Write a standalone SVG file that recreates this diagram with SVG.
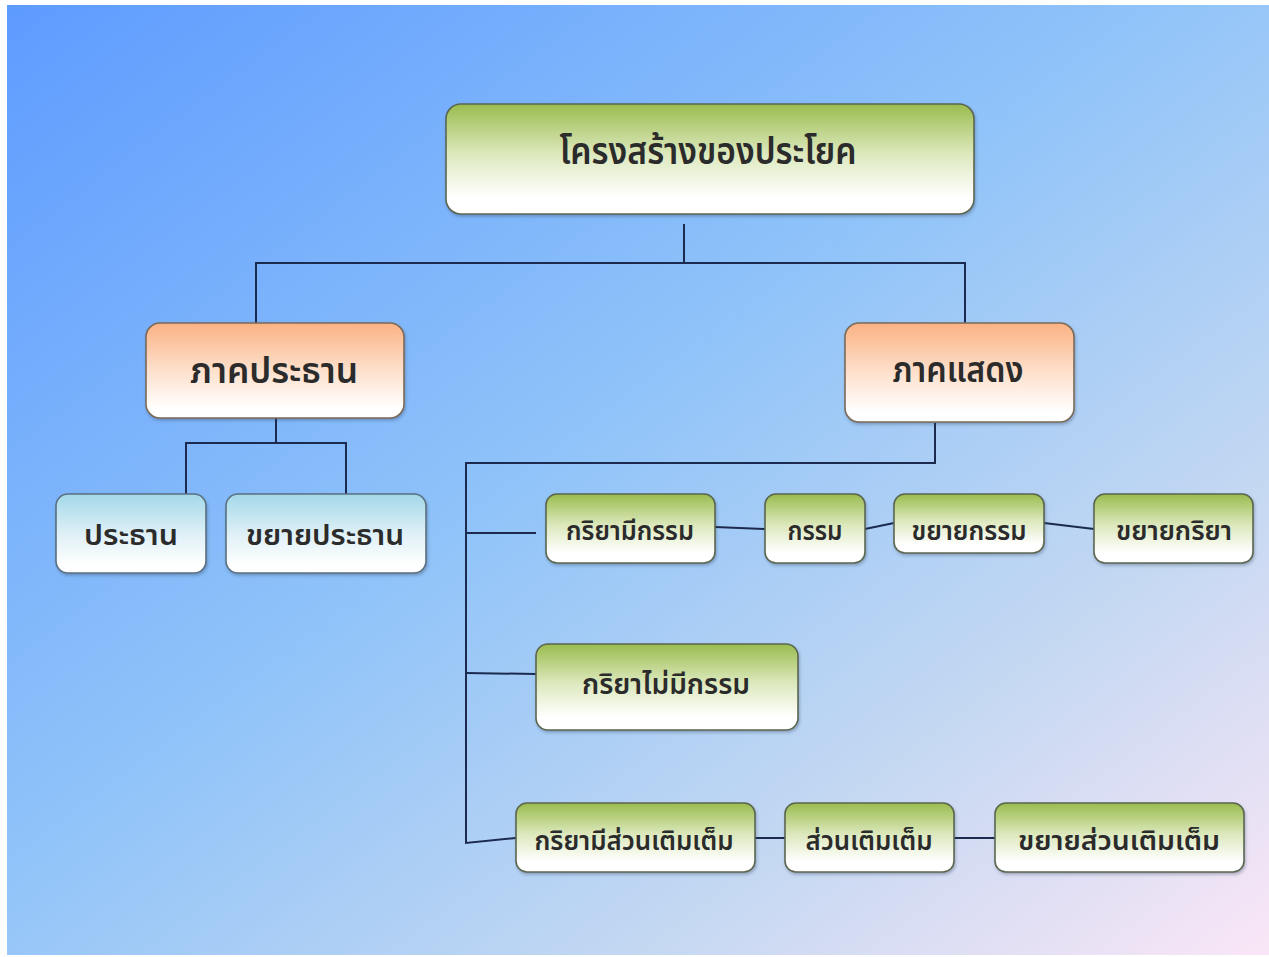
<svg xmlns="http://www.w3.org/2000/svg" width="1269" height="957" viewBox="0 0 1269 957">
<defs>
<linearGradient id="bg" x1="0" y1="0" x2="1" y2="1">
<stop offset="0" stop-color="#5e9bff"/>
<stop offset="0.45" stop-color="#8fc3f9"/>
<stop offset="0.75" stop-color="#c4d8f2"/>
<stop offset="1" stop-color="#fae6f6"/>
</linearGradient>
<linearGradient id="gGreen" x1="0" y1="0" x2="0" y2="1">
<stop offset="0" stop-color="#9abc4e"/>
<stop offset="0.45" stop-color="#dce8bc"/>
<stop offset="0.85" stop-color="#ffffff"/>
</linearGradient>
<linearGradient id="gOrange" x1="0" y1="0" x2="0" y2="1">
<stop offset="0" stop-color="#fbb283"/>
<stop offset="0.5" stop-color="#fde0cc"/>
<stop offset="0.9" stop-color="#ffffff"/>
</linearGradient>
<linearGradient id="gBlue" x1="0" y1="0" x2="0" y2="1">
<stop offset="0" stop-color="#a3d8e8"/>
<stop offset="0.5" stop-color="#def0f6"/>
<stop offset="0.9" stop-color="#ffffff"/>
</linearGradient>
<filter id="sh" x="-10%" y="-10%" width="120%" height="130%">
<feDropShadow dx="1" dy="2" stdDeviation="1.5" flood-color="#304060" flood-opacity="0.35"/>
</filter>
</defs>
<style>
.box{stroke:#5b6650;stroke-width:1.6;filter:url(#sh)}
.green{fill:url(#gGreen)}
.orange{fill:url(#gOrange);stroke:#7a6a5a}
.blue{fill:url(#gBlue);stroke:#5a7080}
.t{font-family:"Noto Sans Thai","Noto Sans","DejaVu Sans",sans-serif;fill:#2b2b2b;text-anchor:middle;font-weight:600}
.t1{font-size:37px}
.t2{font-size:35px}
.t3{font-size:28px}
.t4{font-size:26px}
.conn{fill:none;stroke:#1b2a4e;stroke-width:2}
</style>
<rect x="0" y="0" width="1269" height="957" fill="#ffffff"/>
<rect x="7" y="5" width="1262" height="950" fill="url(#bg)"/>
<g id="connectors" class="conn">
<polyline points="684,224 684,263"/>
<polyline points="256,323 256,263 965,263 965,323"/>
<polyline points="276,418 276,443"/>
<polyline points="186,494 186,443 346,443 346,494"/>
<polyline points="935,423 935,463 466,463 466,843 516,838"/>
<polyline points="466,533 536,533"/>
<polyline points="466,673 536,674"/>
<polyline points="715,527 765,529"/>
<polyline points="865,529 894,523"/>
<polyline points="1044,523 1094,529"/>
<polyline points="755,838 785,838"/>
<polyline points="954,838 995,838"/>
</g>
<g id="n-root"><rect class="box green" x="446" y="104" width="528" height="110" rx="15"/><text class="t t1" x="708" y="164" textLength="297" lengthAdjust="spacingAndGlyphs">โครงสร้างของประโยค</text></g>
<g id="n-subject-part"><rect class="box orange" x="146" y="323" width="258" height="95" rx="14"/><text class="t t2" x="274" y="383" textLength="168" lengthAdjust="spacingAndGlyphs">ภาคประธาน</text></g>
<g id="n-predicate-part"><rect class="box orange" x="845" y="323" width="229" height="99" rx="14"/><text class="t t2" x="958" y="382" textLength="131" lengthAdjust="spacingAndGlyphs">ภาคแสดง</text></g>
<g id="n-subject"><rect class="box blue" x="56" y="494" width="150" height="79" rx="12"/><text class="t t3" x="131" y="545" textLength="94" lengthAdjust="spacingAndGlyphs">ประธาน</text></g>
<g id="n-subject-mod"><rect class="box blue" x="226" y="494" width="200" height="79" rx="12"/><text class="t t3" x="325" y="545" textLength="158" lengthAdjust="spacingAndGlyphs">ขยายประธาน</text></g>
<g id="n-transitive"><rect class="box green" x="546" y="494" width="169" height="69" rx="11"/><text class="t t4" x="630" y="540" textLength="128" lengthAdjust="spacingAndGlyphs">กริยามีกรรม</text></g>
<g id="n-object"><rect class="box green" x="765" y="494" width="100" height="69" rx="11"/><text class="t t4" x="815" y="540" textLength="55" lengthAdjust="spacingAndGlyphs">กรรม</text></g>
<g id="n-object-mod"><rect class="box green" x="894" y="494" width="150" height="59" rx="11"/><text class="t t4" x="969" y="540" textLength="115" lengthAdjust="spacingAndGlyphs">ขยายกรรม</text></g>
<g id="n-verb-mod"><rect class="box green" x="1094" y="494" width="159" height="69" rx="11"/><text class="t t4" x="1174" y="540" textLength="116" lengthAdjust="spacingAndGlyphs">ขยายกริยา</text></g>
<g id="n-intransitive"><rect class="box green" x="536" y="644" width="262" height="86" rx="12"/><text class="t t3" x="666" y="694" textLength="168" lengthAdjust="spacingAndGlyphs">กริยาไม่มีกรรม</text></g>
<g id="n-linking"><rect class="box green" x="516" y="803" width="239" height="69" rx="11"/><text class="t t4" x="634" y="850" textLength="199" lengthAdjust="spacingAndGlyphs">กริยามีส่วนเติมเต็ม</text></g>
<g id="n-complement"><rect class="box green" x="785" y="803" width="169" height="69" rx="11"/><text class="t t4" x="869" y="850" textLength="127" lengthAdjust="spacingAndGlyphs">ส่วนเติมเต็ม</text></g>
<g id="n-complement-mod"><rect class="box green" x="995" y="803" width="249" height="69" rx="11"/><text class="t t4" x="1119" y="850" textLength="202" lengthAdjust="spacingAndGlyphs">ขยายส่วนเติมเต็ม</text></g>
</svg>
